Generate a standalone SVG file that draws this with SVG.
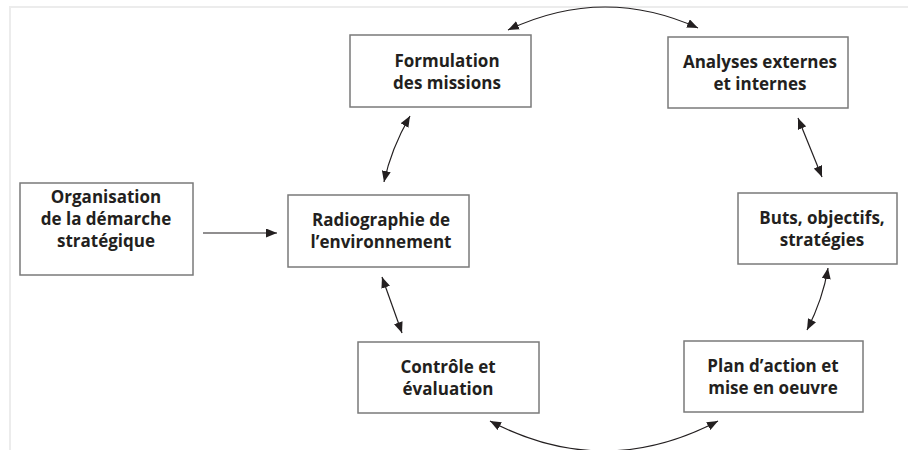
<svg xmlns="http://www.w3.org/2000/svg" width="908" height="450" viewBox="0 0 908 450">
  <style>
    .box { fill: #ffffff; stroke: #7a7a7a; stroke-width: 1.5; }
    .lbl { font-family: "Open Sans", "Noto Sans", "Liberation Sans", sans-serif; font-weight: 700; font-size: 17px; fill: #231f20; text-anchor: middle; }
    .conn { fill: none; stroke: #231f20; stroke-width: 1.2; }
    .frame { fill: none; stroke: #ececec; stroke-width: 2; }
  </style>
  <defs>
    <marker id="ah" viewBox="0 0 11 9" refX="11" refY="4.5" markerWidth="11" markerHeight="9" markerUnits="userSpaceOnUse" orient="auto-start-reverse">
      <path d="M0,0 L11,4.5 L0,9 z" fill="#231f20"/>
    </marker>
  </defs>
  <rect width="908" height="450" fill="#ffffff"/>
  <path class="frame" d="M10,452 L10,7 L910,7"/>

  <g id="connectors">
    <path class="conn" d="M203,233 L277,233" marker-end="url(#ah)"/>
    <path class="conn" d="M410,116 Q391,149 384,182" marker-start="url(#ah)" marker-end="url(#ah)"/>
    <path class="conn" d="M382,277 L402,333" marker-start="url(#ah)" marker-end="url(#ah)"/>
    <path class="conn" d="M508,30 Q603,-15 698,28" marker-start="url(#ah)" marker-end="url(#ah)"/>
    <path class="conn" d="M798,118 L822,177" marker-start="url(#ah)" marker-end="url(#ah)"/>
    <path class="conn" d="M828,268 Q823,299 807,330" marker-start="url(#ah)" marker-end="url(#ah)"/>
    <path class="conn" d="M490,421 Q604,481 718,421" marker-start="url(#ah)" marker-end="url(#ah)"/>
  </g>

  <g id="organisation">
    <rect class="box" x="20" y="183" width="173" height="92"/>
    <text class="lbl" x="106" y="203">Organisation</text>
    <text class="lbl" x="106" y="225">de la démarche</text>
    <text class="lbl" x="106" y="247">stratégique</text>
  </g>
  <g id="radiographie">
    <rect class="box" x="288" y="195" width="181" height="72"/>
    <text class="lbl" x="381" y="226">Radiographie de</text>
    <text class="lbl" x="381" y="248">l’environnement</text>
  </g>
  <g id="formulation">
    <rect class="box" x="350" y="35" width="181" height="72"/>
    <text class="lbl" x="447" y="67">Formulation</text>
    <text class="lbl" x="447" y="89">des missions</text>
  </g>
  <g id="analyses">
    <rect class="box" x="668" y="37" width="180" height="71"/>
    <text class="lbl" x="760" y="68">Analyses externes</text>
    <text class="lbl" x="760" y="90">et internes</text>
  </g>
  <g id="buts">
    <rect class="box" x="738" y="193" width="159" height="71"/>
    <text class="lbl" x="822" y="224">Buts, objectifs,</text>
    <text class="lbl" x="822" y="246">stratégies</text>
  </g>
  <g id="plan">
    <rect class="box" x="684" y="341" width="179" height="71"/>
    <text class="lbl" x="773" y="372">Plan d’action et</text>
    <text class="lbl" x="773" y="394">mise en oeuvre</text>
  </g>
  <g id="controle">
    <rect class="box" x="358" y="342" width="181" height="71"/>
    <text class="lbl" x="448" y="373">Contrôle et</text>
    <text class="lbl" x="448" y="395">évaluation</text>
  </g>
</svg>
